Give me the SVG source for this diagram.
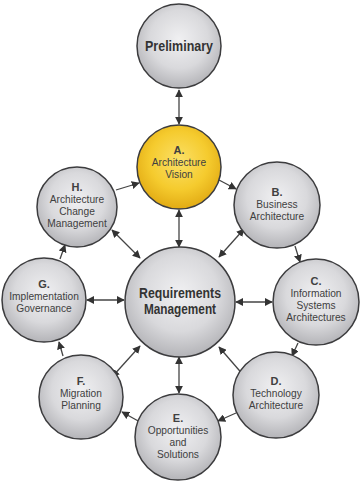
<svg xmlns="http://www.w3.org/2000/svg" width="361" height="484" viewBox="0 0 361 484">
  <defs>
    <radialGradient id="grey" cx="50%" cy="42%" r="58%">
      <stop offset="0" stop-color="#f0f0f2"/>
      <stop offset="0.6" stop-color="#d9d9dc"/>
      <stop offset="1" stop-color="#b4b4b8"/>
    </radialGradient>
    <radialGradient id="gold" cx="50%" cy="42%" r="58%">
      <stop offset="0" stop-color="#fbe067"/>
      <stop offset="0.6" stop-color="#f5cb2e"/>
      <stop offset="1" stop-color="#e2ab14"/>
    </radialGradient>
    <marker id="ah" viewBox="0 0 10 10" refX="9" refY="5" markerWidth="8" markerHeight="8" markerUnits="userSpaceOnUse" orient="auto-start-reverse">
      <path d="M0,0 L10,5 L0,10 z" fill="#333"/>
    </marker>
  </defs>
  <style>
    .c { fill: url(#grey); stroke: #3c3c3e; stroke-width: 1.5; }
    .y { fill: url(#gold); stroke: #3c3c3e; stroke-width: 1.5; }
    text { font-family: "Liberation Sans", Arial, sans-serif; fill: #404040; text-anchor: middle; }
    .t { font-size: 10.2px; }
    .l { font-size: 11px; font-weight: bold; }
    .big { font-size: 14px; font-weight: bold; fill: #333; }
    .link { stroke: #444; stroke-width: 1.3; fill: none; marker-end: url(#ah); }
    .both { marker-start: url(#ah); }
  </style>

  <rect width="361" height="484" fill="#ffffff"/>

  <g id="connectors">
    <!-- phase cycle -->
    <line class="link both" x1="179" y1="90" x2="179" y2="124"/>
    <line class="link" x1="219" y1="180" x2="236" y2="189"/>
    <line class="link" x1="295" y1="246" x2="300" y2="262"/>
    <line class="link" x1="298" y1="343" x2="292" y2="356"/>
    <line class="link" x1="236" y1="413" x2="218" y2="421"/>
    <line class="link" x1="140" y1="422" x2="122" y2="412"/>
    <line class="link" x1="63" y1="356" x2="59" y2="342"/>
    <line class="link" x1="60" y1="259" x2="65" y2="245"/>
    <line class="link" x1="116" y1="190" x2="139" y2="183"/>
    <!-- requirements spokes -->
    <line class="link both" x1="179" y1="210" x2="179" y2="247"/>
    <line class="link both" x1="244" y1="229" x2="219" y2="257"/>
    <line class="link both" x1="272" y1="302" x2="236" y2="302"/>
    <line class="link both" x1="245" y1="377" x2="219" y2="347"/>
    <line class="link both" x1="179" y1="357" x2="179" y2="393"/>
    <line class="link both" x1="112" y1="377" x2="140" y2="346"/>
    <line class="link both" x1="87" y1="300" x2="124" y2="300"/>
    <line class="link both" x1="112" y1="230" x2="140" y2="258"/>
  </g>

  <g id="preliminary">
    <circle class="c" cx="179" cy="46" r="42"/>
    <text class="big" x="179" y="51" textLength="68" lengthAdjust="spacingAndGlyphs">Preliminary</text>
  </g>

  <g id="a-vision">
    <circle class="y" cx="179" cy="167" r="42"/>
    <text class="l" x="179" y="154">A.</text>
    <text class="t" x="179" y="166">Architecture</text>
    <text class="t" x="179" y="178">Vision</text>
  </g>

  <g id="b-business">
    <circle class="c" cx="277" cy="205" r="43"/>
    <text class="l" x="277" y="196">B.</text>
    <text class="t" x="277" y="208">Business</text>
    <text class="t" x="277" y="220">Architecture</text>
  </g>

  <g id="c-information">
    <circle class="c" cx="316" cy="302" r="43"/>
    <text class="l" x="316" y="285">C.</text>
    <text class="t" x="316" y="297">Information</text>
    <text class="t" x="316" y="309">Systems</text>
    <text class="t" x="316" y="321">Architectures</text>
  </g>

  <g id="d-technology">
    <circle class="c" cx="276" cy="395" r="43"/>
    <text class="l" x="276" y="385">D.</text>
    <text class="t" x="276" y="397">Technology</text>
    <text class="t" x="276" y="409">Architecture</text>
  </g>

  <g id="e-opportunities">
    <circle class="c" cx="178" cy="437" r="43"/>
    <text class="l" x="178" y="422">E.</text>
    <text class="t" x="178" y="434">Opportunities</text>
    <text class="t" x="178" y="446">and</text>
    <text class="t" x="178" y="458">Solutions</text>
  </g>

  <g id="f-migration">
    <circle class="c" cx="81" cy="397" r="42"/>
    <text class="l" x="81" y="385">F.</text>
    <text class="t" x="81" y="397">Migration</text>
    <text class="t" x="81" y="409">Planning</text>
  </g>

  <g id="g-governance">
    <circle class="c" cx="44" cy="300" r="42"/>
    <text class="l" x="44" y="288">G.</text>
    <text class="t" x="44" y="300">Implementation</text>
    <text class="t" x="44" y="312">Governance</text>
  </g>

  <g id="h-change">
    <circle class="c" cx="77" cy="207" r="40"/>
    <text class="l" x="77" y="191">H.</text>
    <text class="t" x="77" y="203">Architecture</text>
    <text class="t" x="77" y="215">Change</text>
    <text class="t" x="77" y="227">Management</text>
  </g>

  <g id="requirements">
    <circle class="c" cx="180" cy="302" r="55"/>
    <text class="big" x="180" y="298" textLength="82" lengthAdjust="spacingAndGlyphs">Requirements</text>
    <text class="big" x="180" y="314" textLength="72" lengthAdjust="spacingAndGlyphs">Management</text>
  </g>
</svg>
